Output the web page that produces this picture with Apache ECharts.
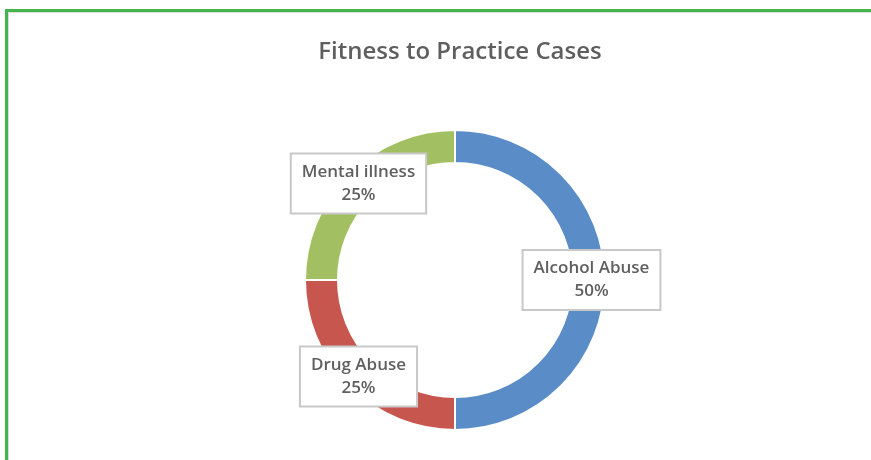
<!DOCTYPE html>
<html>
<head>
<meta charset="utf-8">
<script src="https://cdn.jsdelivr.net/npm/echarts@6/dist/echarts.min.js"></script>
<style>
    html, body { margin: 0; padding: 0; background: #fff; }
    .frame {
        position: absolute;
        left: 5px;
        top: 9px;
        width: 866px;
        height: 451px;
        border-top: 3px solid #43b54a;
        border-left: 3px solid #43b54a;
        box-shadow: inset 1px 1px 0 #dcdcdc;
    }
    #chart { position: absolute; left: 0; top: 0; width: 871px; height: 460px; }
</style>
</head>
<body>
<div class="frame"></div>
<div id="chart"></div>
<script>
let categories = ['Alcohol Abuse', 'Drug Abuse', 'Mental illness'];
let shares = [50, 25, 25];
let colors = ['#5a8cc8', '#c7564f', '#a2c062'];

let myChart = echarts.init(document.getElementById('chart'));
let option = {
    title: {
        text: 'Fitness to Practice Cases',
        left: 455,
        top: 35,
        textAlign: 'center',
        textStyle: {
            color: '#5f5f5f',
            fontFamily: 'Open Sans',
            fontSize: 24,
            fontWeight: 600
        }
    },
    color: colors,
    series: [{
        type: 'pie',
        center: [455, 280],
        radius: [117, 150],
        startAngle: 90,
        clockwise: true,
        silent: true,
        itemStyle: {
            borderColor: '#fff',
            borderWidth: 2
        },
        label: {
            show: true,
            position: 'inside',
            formatter: function (p) {
                return p.name + '\n' + p.value + '%';
            },
            color: '#5f5f5f',
            fontFamily: 'Open Sans',
            fontSize: 17,
            fontWeight: 600,
            lineHeight: 23,
            backgroundColor: '#fff',
            borderColor: '#c8c8c8',
            borderWidth: 2,
            padding: [6, 10, 6, 10]
        },
        labelLine: { show: false },
        data: categories.map(function (c, i) {
            return { name: c, value: shares[i] };
        })
    }]
};
myChart.setOption(option);
</script>
</body>
</html>
